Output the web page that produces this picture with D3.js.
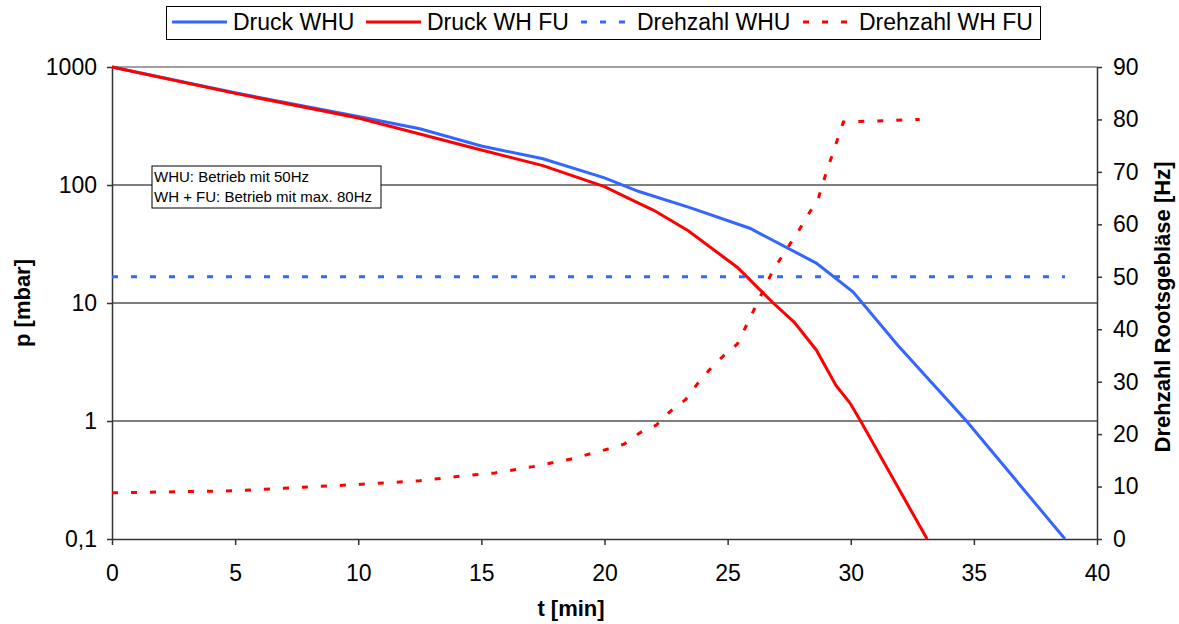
<!DOCTYPE html>
<html>
<head>
<meta charset="utf-8">
<script src="https://cdn.jsdelivr.net/npm/d3@7"></script>
<style>
    body { margin: 0; background: #fff; }
    text { font-family: "Liberation Sans", Arial, sans-serif; }
</style>
</head>
<body>
<div id="chart"></div>
<script>
// Druck WHU (mbar) over t (min)
var tWHU = [0, 5, 10, 12.5, 15, 17.5, 20, 21.4, 23.5, 25.9, 28.6, 30.1, 31.9, 34.7, 38.7];
var pWHU = [1000, 605, 380, 300, 214, 167, 115, 88, 64, 43, 21.8, 12.4, 4.4, 1, 0.1];

// Druck WH FU
var tFU = [0, 5, 10, 15, 17.5, 20, 21.4, 22, 23.4, 25.4, 26.85, 27.7, 28.6, 29.4, 29.97, 30.4, 33.1];
var pFU = [1000, 598, 370, 198, 146, 97, 70, 61, 41, 20, 10, 6.9, 4.0, 2.0, 1.42, 1, 0.1];

// Drehzahl WHU (Hz)
var tDrehWHU = [0, 38.7];
var vDrehWHU = [50, 50];

// Drehzahl WH FU (Hz)
var tDrehFU = [0, 5, 10, 12.5, 14, 15.55, 17.1, 18.6, 20.1, 20.8, 21.45, 22.1, 22.66, 23.3, 23.74, 24.25, 24.8, 25.4, 26.4, 26.85, 27.9, 28.7, 29.0, 29.7, 32.8];
var vDrehFU = [8.8, 9.2, 10.4, 11.1, 11.9, 12.6, 13.8, 15.2, 17.1, 18.1, 20.3, 21.7, 24.3, 26.6, 29.4, 32.2, 34.8, 37.2, 46.9, 51.3, 58.9, 65.2, 69.8, 79.5, 80];

var xTicks = [0, 5, 10, 15, 20, 25, 30, 35, 40];
var pTicks = [0.1, 1, 10, 100, 1000];
var hzTicks = [0, 10, 20, 30, 40, 50, 60, 70, 80, 90];

var legendNames = ["Druck WHU", "Druck WH FU", "Drehzahl WHU", "Drehzahl WH FU"];
var noteLines = ["WHU: Betrieb mit 50Hz", "WH + FU: Betrieb mit max. 80Hz"];

var blue = "#3366ff", red = "#ff0000";

var width = 1179, height = 624;
var margin = {top: 67, right: 82, bottom: 85, left: 112};
var plotW = width - margin.left - margin.right;
var plotH = height - margin.top - margin.bottom;

var svg = d3.select("#chart")
    .append("svg")
    .attr("width", width)
    .attr("height", height);

var g = svg.append("g")
    .attr("transform", "translate(" + margin.left + "," + margin.top + ")");

var x = d3.scaleLinear().domain([0, 40]).range([0, plotW]);
var yP = d3.scaleLog().domain([0.1, 1000]).range([plotH, 0]);
var yHz = d3.scaleLinear().domain([0, 90]).range([plotH, 0]);

// gridlines
g.selectAll(".grid")
    .data(pTicks.slice(1))
    .enter()
    .append("line")
    .attr("x1", 0)
    .attr("x2", plotW)
    .attr("y1", function (d) { return yP(d); })
    .attr("y2", function (d) { return yP(d); })
    .style("stroke", function (d) { return d === 1000 ? "#a0a0a0" : "#555"; })
    .style("stroke-width", function (d) { return d === 1000 ? 2 : 1.3; });

// axes
var axisFont = 23;

var xAxis = g.append("g")
    .attr("transform", "translate(0," + plotH + ")")
    .call(d3.axisBottom(x).tickValues(xTicks).tickSize(6).tickPadding(20).tickSizeOuter(0));

var leftAxis = g.append("g")
    .call(d3.axisLeft(yP).tickValues(pTicks).tickSize(5).tickPadding(10).tickSizeOuter(0)
        .tickFormat(function (d) { return d === 0.1 ? "0,1" : d; }));

var rightAxis = g.append("g")
    .attr("transform", "translate(" + plotW + ",0)")
    .call(d3.axisRight(yHz).tickValues(hzTicks).tickSize(5).tickPadding(11).tickSizeOuter(0));

[xAxis, leftAxis, rightAxis].forEach(function (a) {
    a.selectAll("path, line").style("stroke", "#333").style("stroke-width", 1.5);
    a.selectAll("text")
        .style("font-family", "'Liberation Sans', Arial, sans-serif")
        .style("font-size", axisFont + "px")
        .style("fill", "#000");
});

// axis titles
svg.append("text")
    .attr("x", 571)
    .attr("y", 616)
    .attr("text-anchor", "middle")
    .style("font-size", "22px")
    .style("font-weight", "bold")
    .text("t [min]");

svg.append("text")
    .attr("transform", "translate(30,303) rotate(-90)")
    .attr("text-anchor", "middle")
    .style("font-size", "22px")
    .style("font-weight", "bold")
    .text("p [mbar]");

svg.append("text")
    .attr("transform", "translate(1170,307) rotate(-90)")
    .attr("text-anchor", "middle")
    .style("font-size", "22px")
    .style("font-weight", "bold")
    .text("Drehzahl Rootsgebläse [Hz]");

// series
function series(ts, vs, yScale) {
    return ts.map(function (t, i) { return [x(t), yScale(vs[i])]; });
}

var line = d3.line();

var seriesList = [
    {pts: series(tWHU, pWHU, yP), color: blue, dash: null},
    {pts: series(tFU, pFU, yP), color: red, dash: null},
    {pts: series(tDrehWHU, vDrehWHU, yHz), color: blue, dash: "6,13"},
    {pts: series(tDrehFU, vDrehFU, yHz), color: red, dash: "6,13"}
];

g.selectAll(".series")
    .data(seriesList)
    .enter()
    .append("path")
    .attr("class", "series")
    .attr("d", function (d) { return line(d.pts); })
    .style("fill", "none")
    .style("stroke", function (d) { return d.color; })
    .style("stroke-width", 3)
    .style("stroke-dasharray", function (d) { return d.dash; });

// note box
var note = svg.append("g").attr("transform", "translate(152,166)");
note.append("rect")
    .attr("width", 229)
    .attr("height", 42)
    .style("fill", "#fff")
    .style("stroke", "#000")
    .style("stroke-width", 1);
note.selectAll("text")
    .data(noteLines)
    .enter()
    .append("text")
    .attr("x", 2)
    .attr("y", function (d, i) { return 16 + i * 20; })
    .style("font-size", "15px")
    .text(function (d) { return d; });

// legend
var legend = svg.append("g");
legend.append("rect")
    .attr("x", 166.5)
    .attr("y", 6.5)
    .attr("width", 874)
    .attr("height", 33)
    .style("fill", "#fff")
    .style("stroke", "#000")
    .style("stroke-width", 1);

var legendSample = [[172, 227], [366, 421], [581, 628], [803, 850]];
var legendTextX = [233, 427, 637, 859];

legendNames.forEach(function (name, i) {
    legend.append("line")
        .attr("x1", legendSample[i][0])
        .attr("x2", legendSample[i][1])
        .attr("y1", 22)
        .attr("y2", 22)
        .style("stroke", seriesList[i].color)
        .style("stroke-width", 3)
        .style("stroke-dasharray", seriesList[i].dash);
    legend.append("text")
        .attr("x", legendTextX[i])
        .attr("y", 30)
        .style("font-size", "23px")
        .text(name);
});
</script>
</body>
</html>
